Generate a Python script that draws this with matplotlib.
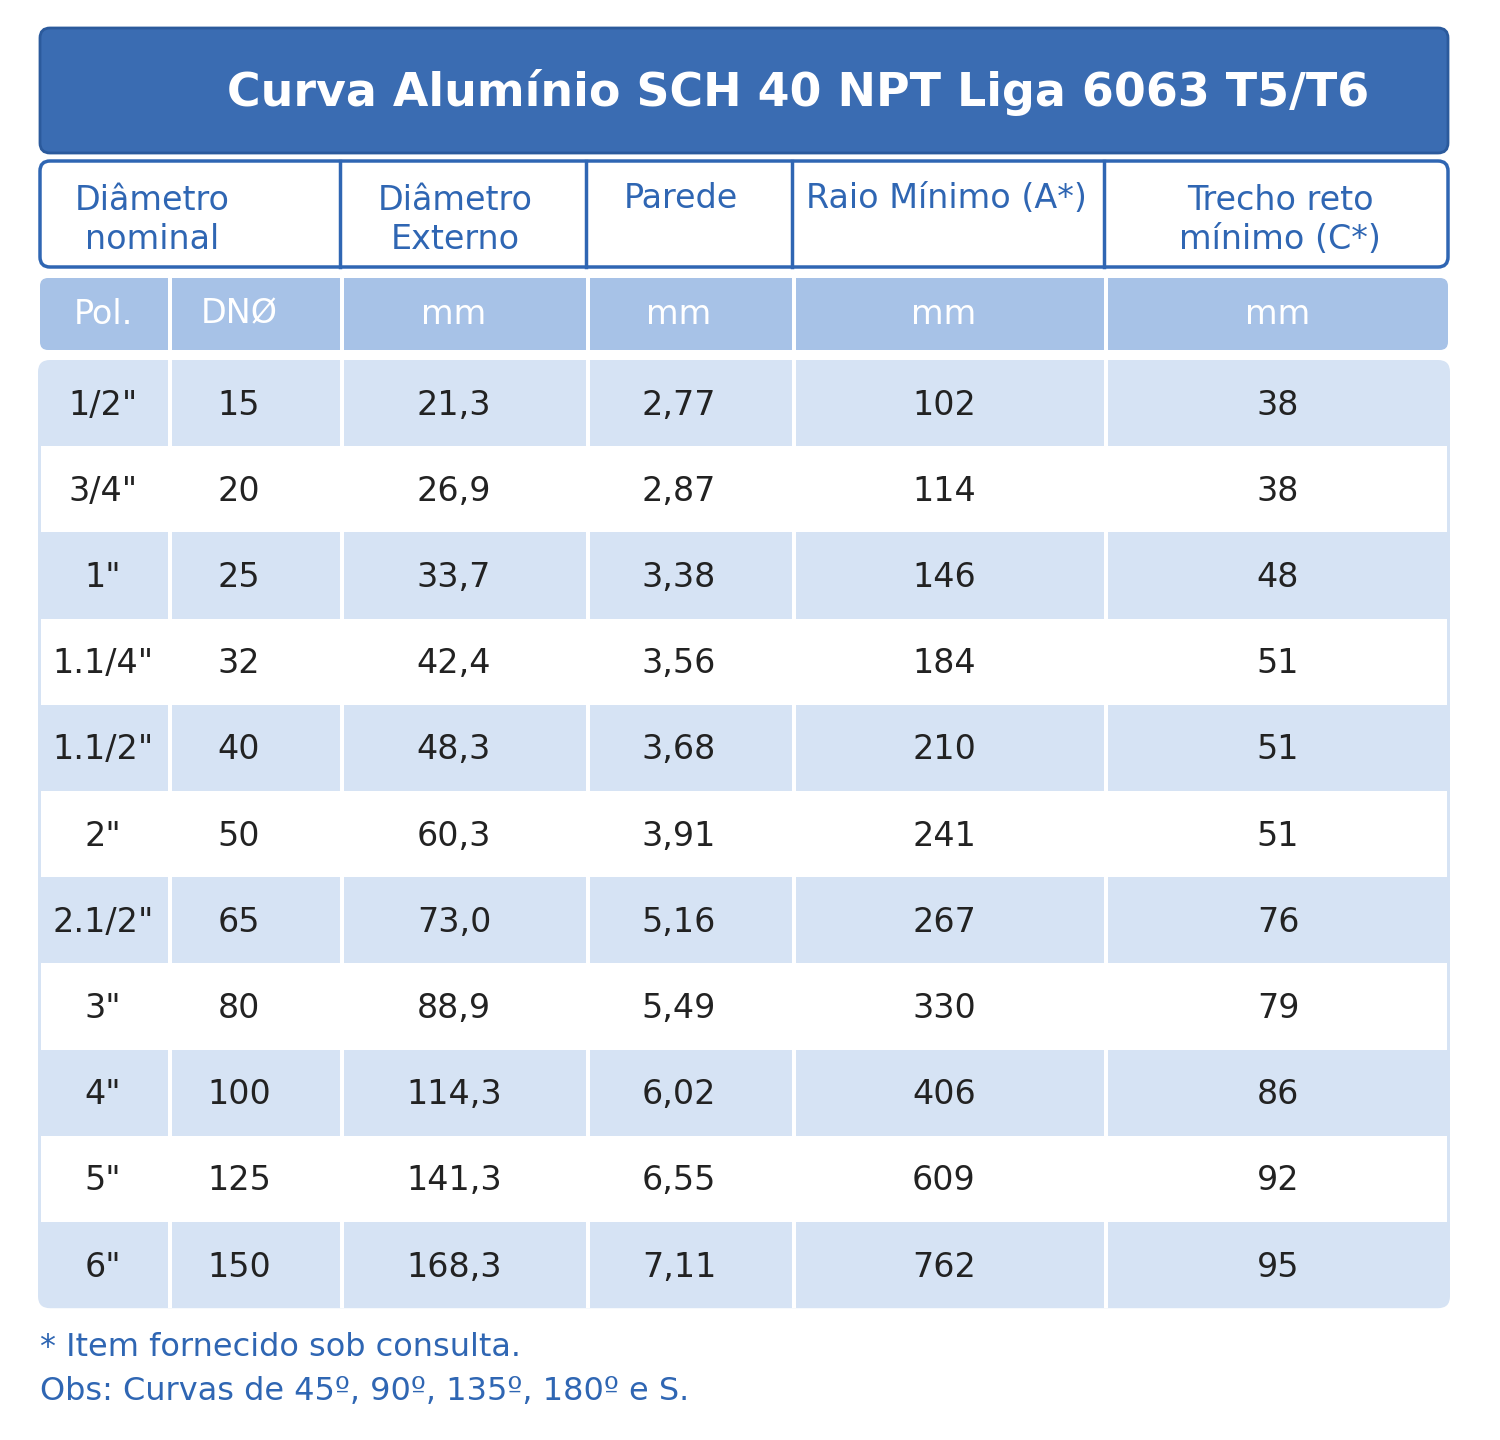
import matplotlib
matplotlib.use("Agg")
import matplotlib.pyplot as plt
from matplotlib.patches import FancyBboxPatch, Rectangle

title = "Curva Alumínio SCH 40 NPT Liga 6063 T5/T6"
headers = ["Diâmetro\nnominal", "Diâmetro\nExterno", "Parede", "Raio Mínimo (A*)", "Trecho reto\nmínimo (C*)"]
units = ["Pol.", "DNØ", "mm", "mm", "mm", "mm"]
pol = ['1/2"', '3/4"', '1"', '1.1/4"', '1.1/2"', '2"', '2.1/2"', '3"', '4"', '5"', '6"']
dn = ["15", "20", "25", "32", "40", "50", "65", "80", "100", "125", "150"]
ext = ["21,3", "26,9", "33,7", "42,4", "48,3", "60,3", "73,0", "88,9", "114,3", "141,3", "168,3"]
parede = ["2,77", "2,87", "3,38", "3,56", "3,68", "3,91", "5,16", "5,49", "6,02", "6,55", "7,11"]
raio = ["102", "114", "146", "184", "210", "241", "267", "330", "406", "609", "762"]
trecho = ["38", "38", "48", "51", "51", "51", "76", "79", "86", "92", "95"]
notes = ["* Item fornecido sob consulta.", "Obs: Curvas de 45º, 90º, 135º, 180º e S."]

DARK = "#3a6cb2"; HBLUE = "#2f66b3"; UNIT = "#a7c2e7"; LIGHT = "#d6e3f4"; TXT = "#222222"
fig = plt.figure(figsize=(15, 14.4), dpi=100)
ax = fig.add_axes([0, 0, 1, 1]); ax.set_xlim(0, 1500); ax.set_ylim(1440, 0); ax.axis("off")
F = "DejaVu Sans"

ax.add_patch(FancyBboxPatch((40, 28), 1408, 125, boxstyle="round,pad=0,rounding_size=10", fc=DARK, ec="#2b5a9c", lw=2))
ax.text(798, 92, title, ha="center", va="center", color="white", fontsize=33, fontweight="bold", family=F)

ax.add_patch(FancyBboxPatch((40, 161), 1408, 106, boxstyle="round,pad=0,rounding_size=10", fc="white", ec=HBLUE, lw=2.5))
hx = [40, 340, 586, 792, 1104, 1448]
for x in hx[1:-1]:
    ax.plot([x, x], [161, 267], color=HBLUE, lw=2.5)
hcent = [152, 455, 681, 946, 1280]
for i, h in enumerate(headers):
    va_y = 198 if "\n" not in h else 220
    ax.text(hcent[i], 220 if "\n" in h else 198, h, ha="center", va="center", color=HBLUE, fontsize=24, family=F, linespacing=1.2)

cx = [40, 168, 340, 586, 792, 1104, 1448]
ccent = [103, 239, 454, 679, 944, 1278]
ax.add_patch(FancyBboxPatch((40, 278), 1408, 72, boxstyle="round,pad=0,rounding_size=8", fc=UNIT, ec="none"))
for x in cx[1:-1]:
    ax.add_patch(Rectangle((x, 278), 4, 72, fc="white", ec="none"))
for i, u in enumerate(units):
    ax.text(ccent[i], 314, u, ha="center", va="center", color="white", fontsize=24, family=F)

top, rh = 360, 86.2
n = len(pol)
ax.add_patch(FancyBboxPatch((38, top), 1412, rh * n, boxstyle="round,pad=0,rounding_size=12", fc=LIGHT, ec="none"))
cols = [pol, dn, ext, parede, raio, trecho]
for r in range(n):
    y0 = top + r * rh
    if r % 2 == 1:
        ax.add_patch(Rectangle((41, y0), 1406, rh, fc="white", ec="none"))
    else:
        for x in cx[1:-1]:
            ax.add_patch(Rectangle((x, y0), 4, rh, fc="white", ec="none"))
    for c in range(6):
        ax.text(ccent[c], y0 + rh / 2 + 2, cols[c][r], ha="center", va="center", color=TXT, fontsize=24, family=F)

ax.text(40, 1348, notes[0], ha="left", va="center", color=HBLUE, fontsize=23, family=F)
ax.text(40, 1391, notes[1], ha="left", va="center", color=HBLUE, fontsize=23, family=F)
fig.savefig("out.png", dpi=100, facecolor="white")
